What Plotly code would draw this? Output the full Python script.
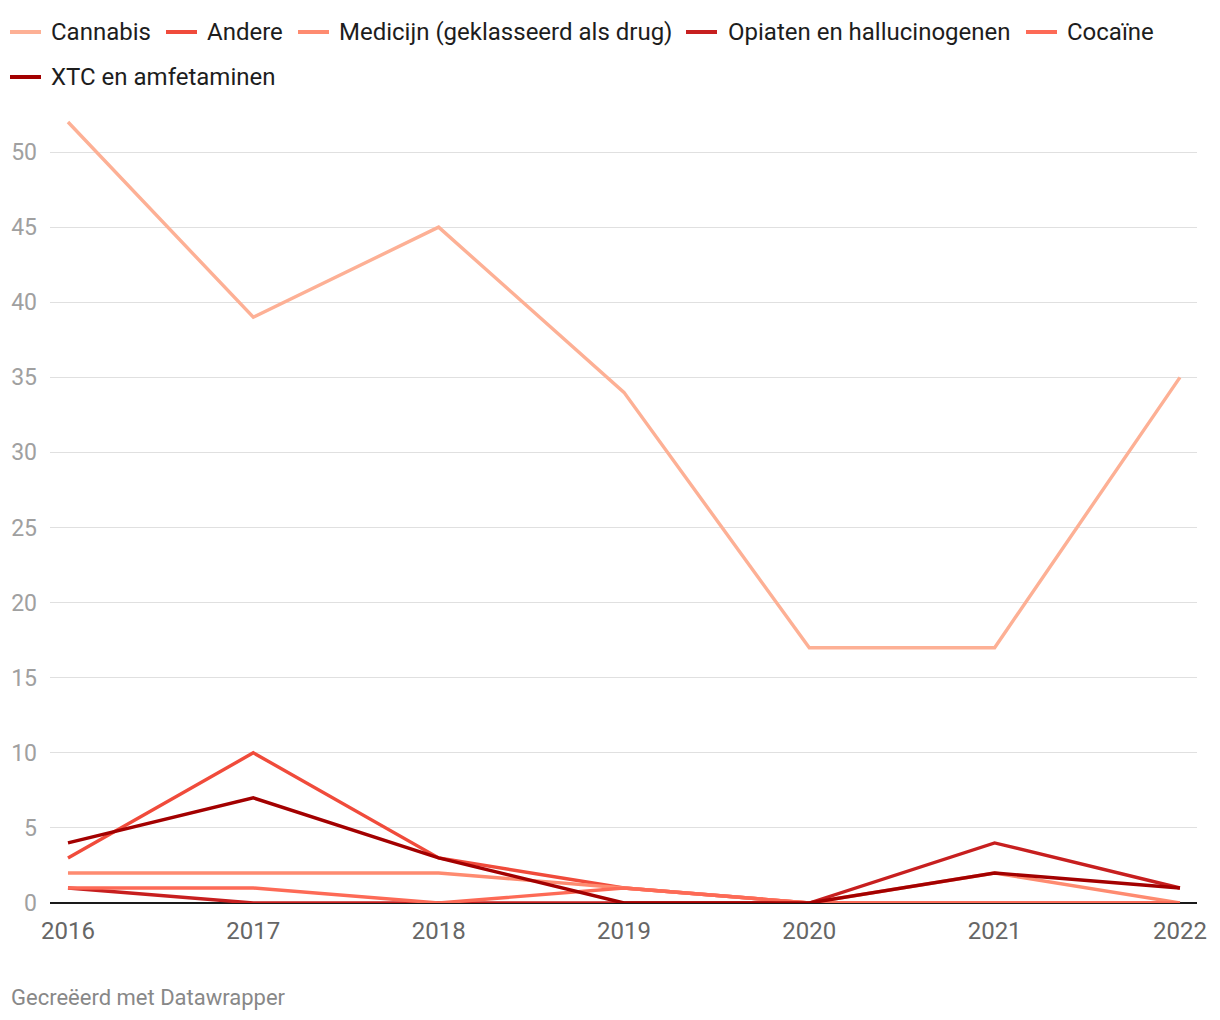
import plotly.graph_objects as go

years = [2016, 2017, 2018, 2019, 2020, 2021, 2022]
series_names = ["Cannabis", "Andere", "Medicijn (geklasseerd als drug)",
                "Opiaten en hallucinogenen", "Cocaïne", "XTC en amfetaminen"]
cannabis = [52, 39, 45, 34, 17, 17, 35]
andere = [3, 10, 3, 1, 0, 0, 0]
medicijn = [2, 2, 2, 1, 0, 2, 0]
opiaten = [1, 0, 0, 0, 0, 4, 1]
cocaine = [1, 1, 0, 1, 0, 0, 0]
xtc = [4, 7, 3, 0, 0, 2, 1]
colors = ["#fdb095", "#f04b3b", "#fe8b70", "#c71f1f", "#fd6a56", "#a30000"]
y_ticks = [0, 5, 10, 15, 20, 25, 30, 35, 40, 45, 50]

values = [cannabis, andere, medicijn, opiaten, cocaine, xtc]

# custom legend layout (pixel offsets relative to plot-area top-left)
legend_sym_x = [-40, 116, 248, 636, 976, -40]
legend_txt_x = [0, 156, 288, 677, 1016, 0]
legend_row_y = [75, 75, 75, 75, 75, 30]

fig = go.Figure()
for name, vals, col in zip(series_names, values, colors):
    fig.add_trace(go.Scatter(x=years, y=vals, name=name, mode="lines",
                             line=dict(color=col, width=3.4),
                             hoverinfo="skip", showlegend=False))

shapes = []
annotations = []
for name, col, sx, tx, ry in zip(series_names, colors, legend_sym_x, legend_txt_x, legend_row_y):
    shapes.append(dict(type="line", xref="paper", yref="paper",
                       xsizemode="pixel", ysizemode="pixel", xanchor=0, yanchor=1,
                       x0=sx, x1=sx + 31, y0=ry, y1=ry,
                       line=dict(color=col, width=4)))
    annotations.append(dict(text=name, xref="paper", yref="paper", x=0, y=1,
                            xshift=tx - 1, yshift=ry, xanchor="left", yanchor="middle",
                            showarrow=False,
                            font=dict(family="Roboto", size=24, color="#1d1d1d")))

annotations.append(dict(text="Gecreëerd met Datawrapper", xref="paper", yref="paper",
                        x=0, y=0, xshift=-41, yshift=-94, xanchor="left", yanchor="middle",
                        showarrow=False, font=dict(family="Roboto", size=22, color="#888")))

fig.update_layout(
    width=1220, height=1020,
    paper_bgcolor="white", plot_bgcolor="white",
    margin=dict(l=42, r=31, t=99, b=125),
    font=dict(family="Roboto", size=22, color="#222"),
    showlegend=False,
    xaxis=dict(range=[2015.903, 2022.092], tickvals=years, ticktext=[str(y) for y in years],
               showgrid=False, zeroline=False, showline=False, ticks="", automargin=False,
               tickfont=dict(family="Roboto", size=24, color="#666"), ticklabelstandoff=11),
    yaxis=dict(range=[0, 53], tickvals=y_ticks, showgrid=True, gridcolor="#e0e0e0", gridwidth=1,
               zeroline=True, zerolinecolor="#1a1a1a", zerolinewidth=1.5, automargin=False,
               showline=False, ticks="",
               tickfont=dict(family="Roboto", size=23, color="#a0a0a0"), ticklabelstandoff=12),
    shapes=shapes,
    annotations=annotations,
)

fig.write_html("out.html")
